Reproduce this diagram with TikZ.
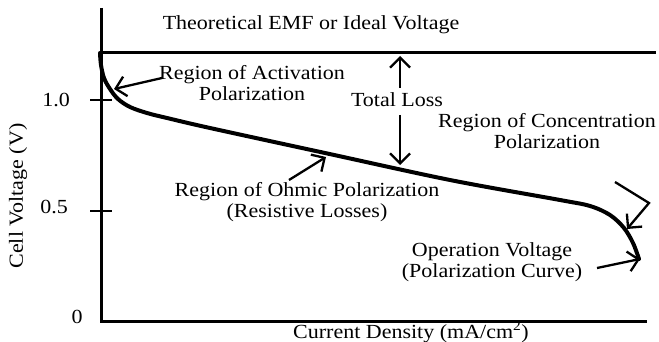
\documentclass[tikz,border=0pt]{standalone}
\usepackage{fontspec}
\setmainfont{Liberation Serif}[FakeStretch=1.1]
\usetikzlibrary{arrows.meta}
\begin{document}
\begin{tikzpicture}[x=1pt,y=-1pt,
  lbl/.style={font=\fontsize{20}{21.5}\selectfont, inner sep=0pt, align=center},
  axisline/.style={line width=3pt},
  curveline/.style={line width=4pt, line cap=round, line join=round},
  pointer/.style={line width=2.3pt, -{Straight Barb[length=10pt,width=20pt,line width=2.3pt]}}]
\useasboundingbox (0,0) rectangle (659,342);
% axes
\coordinate (ytop) at (101,8);
\coordinate (orig) at (101,321);
\coordinate (xend) at (647,321);
\draw[axisline] (ytop) -- (orig) -- (xend);
% ticks
\coordinate (t1a) at (90,100); \coordinate (t1b) at (112,100);
\coordinate (t5a) at (90,211); \coordinate (t5b) at (112,211);
\draw[line width=2.2pt] (t1a) -- (t1b);
\draw[line width=2.2pt] (t5a) -- (t5b);
% EMF line
\coordinate (emfa) at (101,53); \coordinate (emfb) at (656,53);
\draw[axisline] (emfa) -- (emfb);
% polarization curve
\draw[curveline] plot[smooth, tension=0.55] coordinates {(100,53) (101,65) (104,78) (110,89) (118,99) (130,107) (147,113) (167,118) (210,128) (325,153) (450,180) (560,200) (590,206) (610,215) (624,228) (633,243) (639,259)};
% labels
\node[lbl] (title) at (311,25) {Theoretical EMF or Ideal Voltage};
\node[lbl] (act) at (252,83) {Region of Activation\\Polarization};
\node[lbl] (loss) at (397,100) {Total Loss};
\node[lbl] (conc) at (547,131) {Region of Concentration\\Polarization};
\node[lbl] (ohm) at (307,202) {Region of Ohmic Polarization\\(Resistive Losses)};
\node[lbl] (oper) at (492,262) {Operation Voltage\\(Polarization Curve)};
\node[lbl] (one) at (56,100) {1.0};
\node[lbl] (half) at (54,207) {0.5};
\node[lbl] (zero) at (77,317) {0};
\node[lbl, anchor=west] (xlab) at (293,332) {Current Density (mA/cm\textsuperscript{2})};
\node[lbl, rotate=90] (ylab) at (18,196) {Cell Voltage (V)};
% arrows
\coordinate (actS) at (162,78); \coordinate (actT) at (114,89);
\draw[pointer] (actS) -- (actT);
\coordinate (upS) at (400,88); \coordinate (upT) at (400,56);
\draw[pointer] (upS) -- (upT);
\coordinate (dnS) at (400,115); \coordinate (dnT) at (400,165);
\draw[pointer] (dnS) -- (dnT);
\coordinate (ohmS) at (289,180); \coordinate (ohmT) at (326,157);
\draw[pointer] (ohmS) -- (ohmT);
\coordinate (concS) at (615,182); \coordinate (concM) at (649,203); \coordinate (concT) at (627,229);
\draw[pointer, line join=miter] (concS) -- (concM) -- (concT);
\coordinate (opS) at (597,268); \coordinate (opT) at (640,259);
\draw[pointer] (opS) -- (opT);
\end{tikzpicture}
\end{document}
